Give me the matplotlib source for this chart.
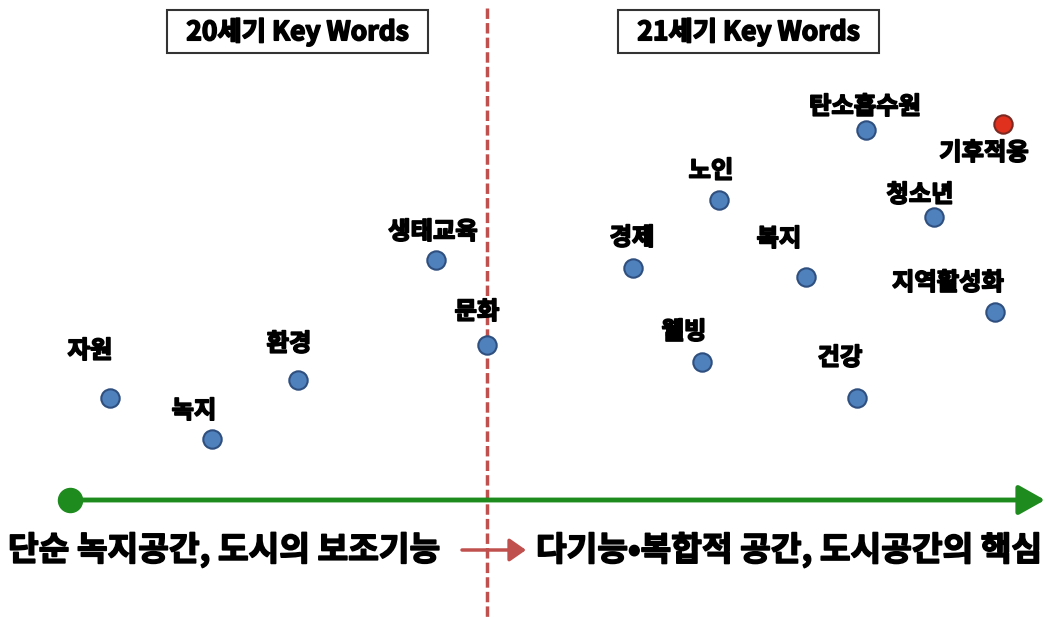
import matplotlib
matplotlib.use("Agg")
import matplotlib.pyplot as plt
import matplotlib.patheffects as pe
from matplotlib.patches import FancyArrowPatch, Rectangle

plt.rcParams['font.family'] = ['Noto Sans CJK KR', 'DejaVu Sans']

# Keyword data (position on the conceptual map)
keywords = ["자원", "녹지", "환경", "생태교육", "문화",
            "경제", "노인", "복지", "웰빙", "건강",
            "탄소흡수원", "기후적응", "청소년", "지역활성화"]
kx = [110, 212, 298, 436, 487, 633, 719, 806, 702, 857, 866, 1003, 934, 995]
ky = [398, 439, 380, 260, 345, 268, 200, 277, 362, 398, 130, 124, 217, 312]
label_x = [90, 194, 289, 433, 477, 632, 711, 779, 684, 840, 865, 984, 920, 948]
label_y = [351, 411, 344, 232, 312, 238, 171, 239, 332, 358, 107, 153, 195, 283]
highlight = ["기후적응"]

era_titles = ["20세기 Key Words", "21세기 Key Words"]
era_box_x = [167, 618]
bottom_texts = ["단순 녹지공간, 도시의 보조기능", "다기능•복합적 공간, 도시공간의 핵심"]

heavy = [pe.withStroke(linewidth=1.2, foreground='black')]

W, H = 1052, 618
fig = plt.figure(figsize=(W / 100, H / 100), dpi=100)
ax = fig.add_axes([0, 0, 1, 1])
ax.set_xlim(0, W)
ax.set_ylim(H, 0)
ax.axis('off')

# Dashed divider
ax.plot([487, 487], [8, 618], color='#C0504D', lw=2.5, ls=(0, (3, 1.2)), zorder=1)

# Title boxes
for t, x in zip(era_titles, era_box_x):
    ax.add_patch(Rectangle((x, 10), 261, 43, fc='white', ec='#333333', lw=1.5, zorder=3))
    ax.text(x + 130.5, 32, t, ha='center', va='center', fontsize=19, fontweight='bold',
            path_effects=heavy, zorder=4)

# Points
for name, x, y, lx, ly in zip(keywords, kx, ky, label_x, label_y):
    if name in highlight:
        fc, ec = '#E0301E', '#7A2A22'
    else:
        fc, ec = '#4F81BD', '#2F4F7F'
    ax.scatter([x], [y], s=175, c=fc, edgecolors=ec, linewidths=1.5, zorder=4)
    ax.text(lx, ly, name, ha='center', va='center', fontsize=17.5, fontweight='bold',
            path_effects=heavy, zorder=4)

# Green timeline arrow
ax.add_patch(FancyArrowPatch((70, 500), (1045, 500), arrowstyle='-|>,head_length=16,head_width=9',
                             mutation_scale=1, color='#1E8B1E', lw=3.5, zorder=2,
                             shrinkA=0, shrinkB=0))
ax.scatter([70], [500], s=300, c='#1E8B1E', zorder=3)

# Red small arrow
ax.add_patch(FancyArrowPatch((462, 550), (526, 550), arrowstyle='-|>,head_length=10,head_width=7',
                             mutation_scale=1, color='#C0504D', lw=2.5, zorder=2,
                             shrinkA=0, shrinkB=0))

ax.text(8, 550, bottom_texts[0], ha='left', va='center', fontsize=24, fontweight='bold',
        path_effects=heavy, zorder=3)
ax.text(536, 550, bottom_texts[1], ha='left', va='center', fontsize=24, fontweight='bold',
        path_effects=heavy, zorder=3)

fig.savefig('out.png', dpi=100)
